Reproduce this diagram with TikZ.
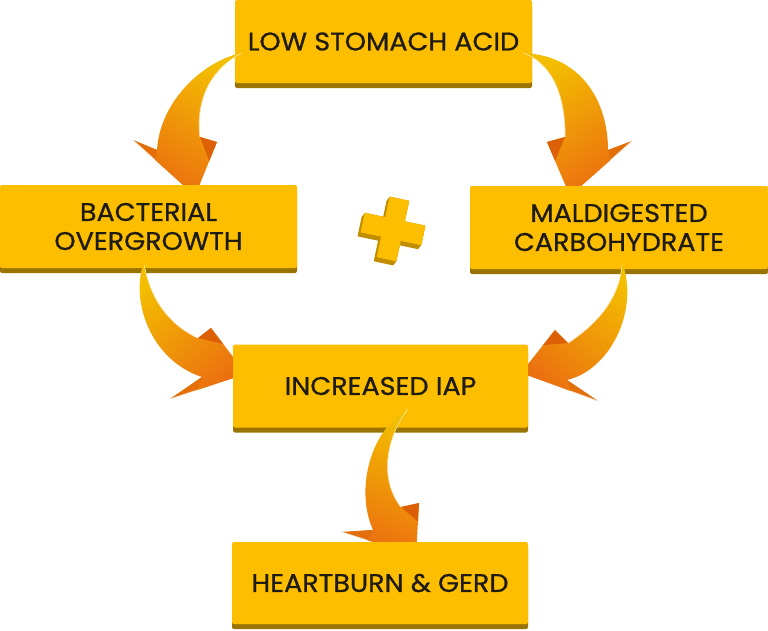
\documentclass[tikz,border=0pt]{standalone}
\usepackage{fontspec}
\setmainfont{Poppins}
\newfontfamily\boxfont{Poppins}[FakeBold=0.8, FakeStretch=1.06]
\usetikzlibrary{calc,shadows}
\definecolor{boxy}{HTML}{FDBE00}
\definecolor{boxsh}{HTML}{9A7400}
\definecolor{txt}{HTML}{1E1B10}
\definecolor{ay}{HTML}{F3BE00}
\definecolor{am}{HTML}{F0920F}
\definecolor{ao}{HTML}{EB6E10}
\definecolor{af}{HTML}{DC6006}
\definecolor{plusf}{HTML}{FDBE00}
\definecolor{plusb}{HTML}{C08C00}
\newcommand\arrowpath[1]{(#1t) .. controls (#1c1) and (#1c2) .. (#1no) -- (#1bo) -- (#1p) -- (#1bi) -- (#1ni) .. controls (#1c3) and (#1c4) .. (#1t) -- cycle}
\newcommand\fancyarrow[3]{%
  \shade[top color=ay, middle color=am, bottom color=ao, shading angle=#2] \arrowpath{#1};
  \fill[af] (#1ni) -- (#1bi) -- ($(#1bi)!0.35!(#1p)$) -- cycle;
  \fill[af!70!am] (#1no) -- (#1bo) -- ($(#1bo)!0.35!(#1p)$) -- cycle;
  \draw[white, line width=0.7pt, opacity=0.8] (#1bo) -- ($(#1bo)!0.35!(#1p)$);
  \begin{scope}
    \clip \arrowpath{#1};
    \draw[white, line width=0.9pt, opacity=0.85, shift={#3}] (#1ni) .. controls (#1c3) and (#1c4) .. (#1t);
  \end{scope}}
\begin{document}
\begin{tikzpicture}[x=1pt,y=-1pt,
  box/.style={rectangle, rounded corners=2pt, fill=boxy, minimum height=83pt,
    inner sep=0pt, text=txt, font=\boxfont\fontsize{25.5}{29}\selectfont, align=center,
    drop shadow={shadow xshift=0pt, shadow yshift=-5pt, fill=boxsh, opacity=1}}]
\useasboundingbox (0,0) rectangle (768,630);

% plus sign
\foreach \s in {0,0.5,...,4}{
  \fill[plusb, shift={($(393,229)+(-0.75*\s,\s)$)}, rotate=-12]
    (-10,-31) -- (10,-31) -- (10,-10) -- (31,-10) -- (31,10) -- (10,10) -- (10,31)
    -- (-10,31) -- (-10,10) -- (-31,10) -- (-31,-10) -- (-10,-10) -- cycle;}
\fill[plusf, shift={(393,229)}, rotate=-12]
    (-10,-31) -- (10,-31) -- (10,-10) -- (31,-10) -- (31,10) -- (10,10) -- (10,31)
    -- (-10,31) -- (-10,10) -- (-31,10) -- (-31,-10) -- (-10,-10) -- cycle;

% top box
\node[box, minimum width=297pt] (low) at (383.5,41.5) {LOW STOMACH ACID};

% arrow 1 (top -> left)
\coordinate (at) at (242,53);
\coordinate (ac1) at (205,60);
\coordinate (ac2) at (160,100);
\coordinate (ano) at (157,150);
\coordinate (abo) at (133,140);
\coordinate (ap) at (195,196);
\coordinate (abi) at (217,142);
\coordinate (ani) at (200,137);
\coordinate (ac3) at (196,100);
\coordinate (ac4) at (210,70);
\fancyarrow{a}{-30}{(-4,0)}

% arrow 2 (top -> right)
\coordinate (bt) at (523,53);
\coordinate (bc1) at (580,55);
\coordinate (bc2) at (608,100);
\coordinate (bno) at (608,150);
\coordinate (bbo) at (632,141);
\coordinate (bp) at (570,196);
\coordinate (bbi) at (547,142);
\coordinate (bni) at (565,137);
\coordinate (bc3) at (565,100);
\coordinate (bc4) at (555,65);
\fancyarrow{b}{30}{(4,0)}

% side boxes
\node[box, minimum width=297pt] (bact) at (148.5,226.5) {BACTERIAL\\OVERGROWTH};
\node[box, minimum width=298pt] (mald) at (619,227.5) {MALDIGESTED\\CARBOHYDRATE};

% arrow 3 (left -> middle)
\coordinate (ct) at (144,262);
\coordinate (cc1) at (130,300);
\coordinate (cc2) at (150,360);
\coordinate (cno) at (202,377);
\coordinate (cbo) at (170,399);
\coordinate (cp) at (246,374);
\coordinate (cbi) at (211,328);
\coordinate (cni) at (198,338);
\coordinate (cc3) at (170,325);
\coordinate (cc4) at (150,300);
\fancyarrow{c}{40}{(-3,3)}

% arrow 4 (right -> middle)
\coordinate (dt) at (622,262);
\coordinate (dc1) at (640,310);
\coordinate (dc2) at (610,370);
\coordinate (dno) at (567,380);
\coordinate (dbo) at (598,401);
\coordinate (dp) at (521,373);
\coordinate (dbi) at (555,330);
\coordinate (dni) at (568,343);
\coordinate (dc3) at (595,325);
\coordinate (dc4) at (620,300);
\fancyarrow{d}{-40}{(3,3)}

% middle box
\node[box, minimum width=295pt] (iap) at (380.5,386) {INCREASED IAP};

% arrow 5 (middle -> bottom)
\coordinate (et) at (408,409);
\coordinate (ec1) at (370,430);
\coordinate (ec2) at (355,490);
\coordinate (eno) at (373,530);
\coordinate (ebo) at (342,532);
\coordinate (ep) at (416,556);
\coordinate (ebi) at (419,503);
\coordinate (eni) at (401,507);
\coordinate (ec3) at (380,480);
\coordinate (ec4) at (385,440);
\fancyarrow{e}{-20}{(-4,0)}

% bottom box
\node[box, minimum width=296pt, minimum height=82pt] (gerd) at (380,583) {HEARTBURN \& GERD};
\end{tikzpicture}
\end{document}
